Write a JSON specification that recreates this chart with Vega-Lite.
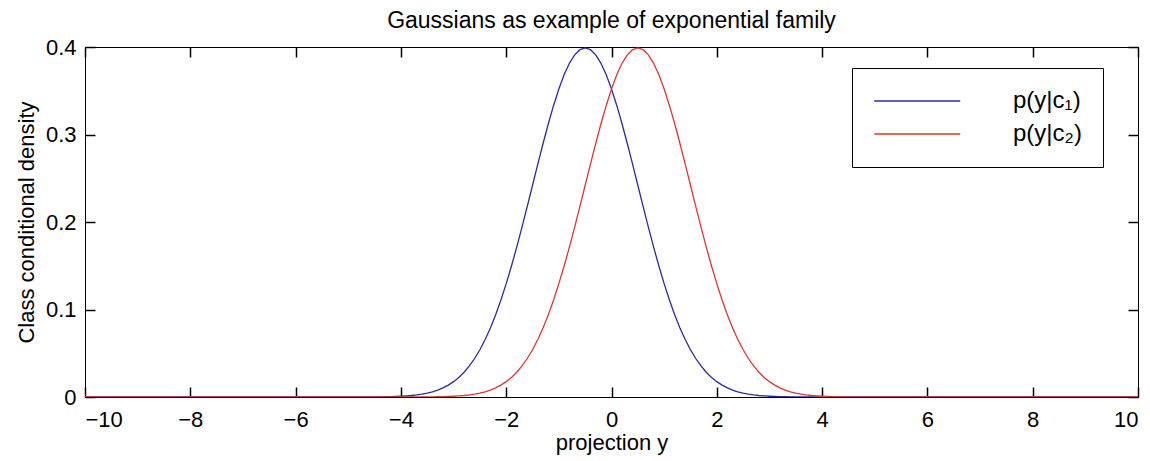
{
  "$schema": "https://vega.github.io/schema/vega-lite/v6.json",
  "autosize": "none",
  "width": 1053,
  "height": 350,
  "padding": {"left": 85, "top": 47, "right": 12, "bottom": 64},
  "background": "white",
  "title": {
    "text": "Gaussians as example of exponential family",
    "font": "Liberation Sans",
    "fontSize": 23,
    "fontWeight": "normal",
    "color": "black",
    "offset": 3
  },
  "config": {
    "view": {"stroke": "black", "strokeWidth": 1},
    "axis": {
      "labelFont": "Liberation Sans",
      "titleFont": "Liberation Sans",
      "labelFontSize": 22,
      "titleFontSize": 22,
      "titleFontWeight": "normal",
      "labelColor": "black",
      "titleColor": "black",
      "domainColor": "black",
      "tickColor": "black",
      "tickWidth": 1.5,
      "grid": false
    },
    "legend": {
      "orient": "none",
      "legendX": 767,
      "legendY": 21,
      "strokeColor": "black",
      "fillColor": "white",
      "padding": 21,
      "symbolType": "M-1,0H7",
      "symbolSize": 462,
      "symbolStrokeWidth": 1.3,
      "labelFont": "Liberation Sans",
      "labelFontSize": 24,
      "labelColor": "black",
      "labelOffset": 116,
      "rowPadding": 9
    }
  },
  "data": {
    "values": [
      {"x": -10, "c1": 0, "c2": 0},
      {"x": -4.5, "c1": 0.00013, "c2": 0},
      {"x": -4.4, "c1": 0.0002, "c2": 0},
      {"x": -4.3, "c1": 0.00029, "c2": 0},
      {"x": -4.2, "c1": 0.00042, "c2": 0.00001},
      {"x": -4.1, "c1": 0.00061, "c2": 0.00001},
      {"x": -4.0, "c1": 0.00087, "c2": 0.00002},
      {"x": -3.9, "c1": 0.00123, "c2": 0.00002},
      {"x": -3.8, "c1": 0.00172, "c2": 0.00004},
      {"x": -3.7, "c1": 0.00238, "c2": 0.00006},
      {"x": -3.6, "c1": 0.00327, "c2": 0.00009},
      {"x": -3.5, "c1": 0.00443, "c2": 0.00013},
      {"x": -3.4, "c1": 0.00595, "c2": 0.0002},
      {"x": -3.3, "c1": 0.00792, "c2": 0.00029},
      {"x": -3.2, "c1": 0.01042, "c2": 0.00042},
      {"x": -3.1, "c1": 0.01358, "c2": 0.00061},
      {"x": -3.0, "c1": 0.01753, "c2": 0.00087},
      {"x": -2.9, "c1": 0.02239, "c2": 0.00123},
      {"x": -2.8, "c1": 0.02833, "c2": 0.00172},
      {"x": -2.7, "c1": 0.03547, "c2": 0.00238},
      {"x": -2.6, "c1": 0.04398, "c2": 0.00327},
      {"x": -2.5, "c1": 0.05399, "c2": 0.00443},
      {"x": -2.4, "c1": 0.06562, "c2": 0.00595},
      {"x": -2.3, "c1": 0.07895, "c2": 0.00792},
      {"x": -2.2, "c1": 0.09405, "c2": 0.01042},
      {"x": -2.1, "c1": 0.11092, "c2": 0.01358},
      {"x": -2.0, "c1": 0.12952, "c2": 0.01753},
      {"x": -1.9, "c1": 0.14973, "c2": 0.02239},
      {"x": -1.8, "c1": 0.17137, "c2": 0.02833},
      {"x": -1.7, "c1": 0.19419, "c2": 0.03547},
      {"x": -1.6, "c1": 0.21785, "c2": 0.04398},
      {"x": -1.5, "c1": 0.24197, "c2": 0.05399},
      {"x": -1.4, "c1": 0.26609, "c2": 0.06562},
      {"x": -1.3, "c1": 0.28969, "c2": 0.07895},
      {"x": -1.2, "c1": 0.31225, "c2": 0.09405},
      {"x": -1.1, "c1": 0.33322, "c2": 0.11092},
      {"x": -1.0, "c1": 0.35207, "c2": 0.12952},
      {"x": -0.9, "c1": 0.36827, "c2": 0.14973},
      {"x": -0.8, "c1": 0.38139, "c2": 0.17137},
      {"x": -0.7, "c1": 0.39104, "c2": 0.19419},
      {"x": -0.6, "c1": 0.39695, "c2": 0.21785},
      {"x": -0.5, "c1": 0.39894, "c2": 0.24197},
      {"x": -0.4, "c1": 0.39695, "c2": 0.26609},
      {"x": -0.3, "c1": 0.39104, "c2": 0.28969},
      {"x": -0.2, "c1": 0.38139, "c2": 0.31225},
      {"x": -0.1, "c1": 0.36827, "c2": 0.33322},
      {"x": 0.0, "c1": 0.35207, "c2": 0.35207},
      {"x": 0.1, "c1": 0.33322, "c2": 0.36827},
      {"x": 0.2, "c1": 0.31225, "c2": 0.38139},
      {"x": 0.3, "c1": 0.28969, "c2": 0.39104},
      {"x": 0.4, "c1": 0.26609, "c2": 0.39695},
      {"x": 0.5, "c1": 0.24197, "c2": 0.39894},
      {"x": 0.6, "c1": 0.21785, "c2": 0.39695},
      {"x": 0.7, "c1": 0.19419, "c2": 0.39104},
      {"x": 0.8, "c1": 0.17137, "c2": 0.38139},
      {"x": 0.9, "c1": 0.14973, "c2": 0.36827},
      {"x": 1.0, "c1": 0.12952, "c2": 0.35207},
      {"x": 1.1, "c1": 0.11092, "c2": 0.33322},
      {"x": 1.2, "c1": 0.09405, "c2": 0.31225},
      {"x": 1.3, "c1": 0.07895, "c2": 0.28969},
      {"x": 1.4, "c1": 0.06562, "c2": 0.26609},
      {"x": 1.5, "c1": 0.05399, "c2": 0.24197},
      {"x": 1.6, "c1": 0.04398, "c2": 0.21785},
      {"x": 1.7, "c1": 0.03547, "c2": 0.19419},
      {"x": 1.8, "c1": 0.02833, "c2": 0.17137},
      {"x": 1.9, "c1": 0.02239, "c2": 0.14973},
      {"x": 2.0, "c1": 0.01753, "c2": 0.12952},
      {"x": 2.1, "c1": 0.01358, "c2": 0.11092},
      {"x": 2.2, "c1": 0.01042, "c2": 0.09405},
      {"x": 2.3, "c1": 0.00792, "c2": 0.07895},
      {"x": 2.4, "c1": 0.00595, "c2": 0.06562},
      {"x": 2.5, "c1": 0.00443, "c2": 0.05399},
      {"x": 2.6, "c1": 0.00327, "c2": 0.04398},
      {"x": 2.7, "c1": 0.00238, "c2": 0.03547},
      {"x": 2.8, "c1": 0.00172, "c2": 0.02833},
      {"x": 2.9, "c1": 0.00123, "c2": 0.02239},
      {"x": 3.0, "c1": 0.00087, "c2": 0.01753},
      {"x": 3.1, "c1": 0.00061, "c2": 0.01358},
      {"x": 3.2, "c1": 0.00042, "c2": 0.01042},
      {"x": 3.3, "c1": 0.00029, "c2": 0.00792},
      {"x": 3.4, "c1": 0.0002, "c2": 0.00595},
      {"x": 3.5, "c1": 0.00013, "c2": 0.00443},
      {"x": 3.6, "c1": 0.00009, "c2": 0.00327},
      {"x": 3.7, "c1": 0.00006, "c2": 0.00238},
      {"x": 3.8, "c1": 0.00004, "c2": 0.00172},
      {"x": 3.9, "c1": 0.00002, "c2": 0.00123},
      {"x": 4.0, "c1": 0.00002, "c2": 0.00087},
      {"x": 4.1, "c1": 0.00001, "c2": 0.00061},
      {"x": 4.2, "c1": 0.00001, "c2": 0.00042},
      {"x": 4.3, "c1": 0, "c2": 0.00029},
      {"x": 4.4, "c1": 0, "c2": 0.0002},
      {"x": 4.5, "c1": 0, "c2": 0.00013},
      {"x": 10, "c1": 0, "c2": 0}
    ]
  },
  "transform": [
    {"fold": ["c1", "c2"], "as": ["series", "density"]}
  ],
  "layer": [
    {
      "mark": {"type": "line", "strokeWidth": 1.3, "clip": true},
      "encoding": {
        "x": {
          "field": "x",
          "type": "quantitative",
          "scale": {"domain": [-10, 10], "nice": false, "zero": false},
          "axis": {
            "orient": "bottom",
            "values": [-10, -8, -6, -4, -2, 0, 2, 4, 6, 8, 10],
            "ticks": false,
            "tickSize": 0,
            "labelPadding": 12,
            "title": "projection y",
            "titlePadding": 2
          }
        },
        "y": {
          "field": "density",
          "type": "quantitative",
          "scale": {"domain": [0, 0.4], "nice": false},
          "axis": {
            "orient": "left",
            "values": [0, 0.1, 0.2, 0.3, 0.4],
            "format": "~g",
            "ticks": false,
            "tickSize": 0,
            "labelPadding": 9,
            "title": "Class conditional density",
            "titlePadding": 7
          }
        },
        "color": {
          "field": "series",
          "type": "nominal",
          "scale": {"domain": ["c1", "c2"], "range": ["#2b2ba0", "#d63838"]},
          "legend": {
            "title": null,
            "labelExpr": "datum.value == 'c1' ? 'p(y|c₁)' : 'p(y|c₂)'"
          }
        },
        "detail": {"field": "series"}
      }
    },
    {
      "mark": {"type": "line", "strokeOpacity": 0},
      "encoding": {
        "x": {
          "field": "x",
          "type": "quantitative",
          "axis": {
            "orient": "top",
            "offset": -350,
            "values": [-10, -8, -6, -4, -2, 0, 2, 4, 6, 8, 10],
            "labels": false,
            "domain": false,
            "tickSize": 10,
            "title": null
          }
        },
        "y": {
          "field": "density",
          "type": "quantitative",
          "axis": {
            "orient": "right",
            "offset": -1053,
            "values": [0, 0.1, 0.2, 0.3, 0.4],
            "labels": false,
            "domain": false,
            "tickSize": 10,
            "title": null
          }
        },
        "detail": {"field": "series"}
      }
    },
    {
      "mark": {"type": "line", "strokeOpacity": 0},
      "encoding": {
        "x": {
          "field": "x",
          "type": "quantitative",
          "axis": {
            "orient": "bottom",
            "offset": -350,
            "values": [-10, -8, -6, -4, -2, 0, 2, 4, 6, 8, 10],
            "labels": false,
            "domain": false,
            "tickSize": 10,
            "title": null
          }
        },
        "y": {
          "field": "density",
          "type": "quantitative",
          "axis": {
            "orient": "left",
            "offset": -1053,
            "values": [0, 0.1, 0.2, 0.3, 0.4],
            "labels": false,
            "domain": false,
            "tickSize": 10,
            "title": null
          }
        },
        "detail": {"field": "series"}
      }
    }
  ],
  "resolve": {"axis": {"x": "independent", "y": "independent"}}
}
